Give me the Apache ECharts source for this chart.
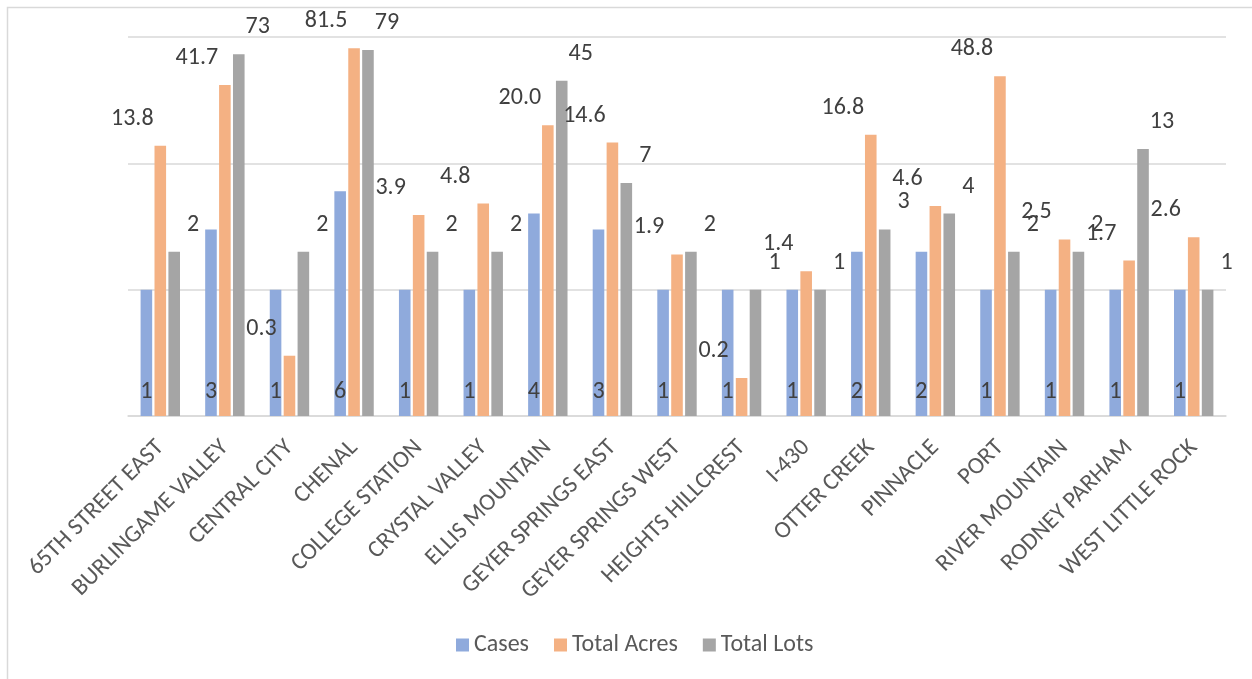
<!DOCTYPE html>
<html>
<head>
<meta charset="utf-8">
<script src="https://cdn.jsdelivr.net/npm/echarts@6/dist/echarts.min.js"></script>
<style>html,body{margin:0;padding:0;background:#fff;}#c{width:1252px;height:679px;}</style>
</head>
<body>
<div id="c"></div>
<script>
const categories = ["65TH STREET EAST","BURLINGAME VALLEY","CENTRAL CITY","CHENAL","COLLEGE STATION","CRYSTAL VALLEY","ELLIS MOUNTAIN","GEYER SPRINGS EAST","GEYER SPRINGS WEST","HEIGHTS HILLCREST","I-430","OTTER CREEK","PINNACLE","PORT","RIVER MOUNTAIN","RODNEY PARHAM","WEST LITTLE ROCK"];
const cases = [1,3,1,6,1,1,4,3,1,1,1,2,2,1,1,1,1];
const totalAcres = [13.8,41.7,0.3,81.5,3.9,4.8,20.0,14.6,1.9,0.2,1.4,16.8,4.6,48.8,2.5,1.7,2.6];
const totalLots = [2,73,2,79,2,2,45,7,2,1,1,3,4,2,2,13,1];
const seriesNames = ["Cases","Total Acres","Total Lots"];

const FONT = 'Carlito, "Open Sans", "Liberation Sans", sans-serif';
const chart = echarts.init(document.getElementById('c'));
const lblBase = {show:true, color:'#404040', fontSize:24, fontFamily:FONT};
chart.setOption({
  animation:false,
  graphic:[{type:'rect', shape:{x:7.5,y:7.5,width:1400,height:800}, style:{fill:'none',stroke:'#d9d9d9',lineWidth:1.5}, silent:true}],
  grid:{left:128,right:26,top:37,bottom:263,containLabel:false},
  legend:{top:628,left:451,itemWidth:13,itemHeight:13,itemGap:25,icon:'rect',
    textStyle:{color:'#595959',fontSize:24,fontFamily:FONT},data:seriesNames},
  xAxis:{type:'category',data:categories,
    axisLine:{show:true,lineStyle:{color:'#d9d9d9',width:1.5}},axisTick:{show:false},
    axisLabel:{rotate:45,interval:0,margin:28,color:'#595959',fontSize:24,fontFamily:FONT}},
  yAxis:{type:'log',logBase:10,min:0.1,max:100,startValue:0.1,
    axisLine:{show:false},axisTick:{show:false},axisLabel:{show:false},
    splitLine:{show:true,lineStyle:{color:'#d9d9d9',width:1.5}}},
  series:[
    {name:seriesNames[0],type:'bar',data:cases,barGap:'20%',barCategoryGap:'39%',
     itemStyle:{color:'#8faadc'},
     label:Object.assign({},lblBase,{position:'insideBottom',distance:12})},
    {name:seriesNames[1],type:'bar',data:totalAcres,
     itemStyle:{color:'#f4b183'},
     label:Object.assign({},lblBase,{position:'top',offset:[-28,-10],formatter:p=>p.value.toFixed(1)})},
    {name:seriesNames[2],type:'bar',data:totalLots,
     itemStyle:{color:'#a5a5a5'},
     label:Object.assign({},lblBase,{position:'top',offset:[19,-10]})}
  ]
});
</script>
</body>
</html>
